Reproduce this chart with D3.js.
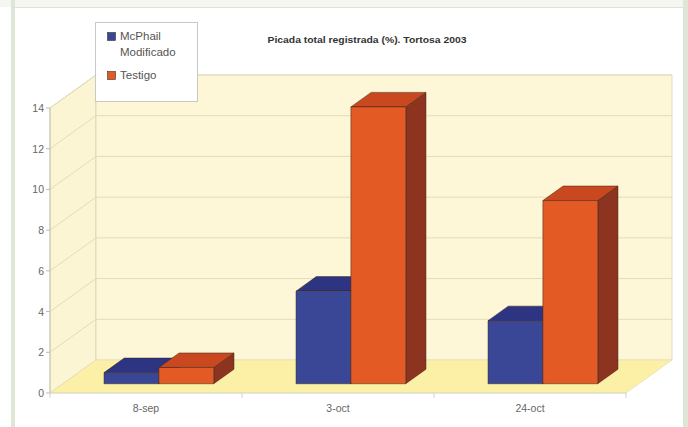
<html>
  <head>
    <script src="https://d3js.org/d3.v7.min.js"></script>
    <style>
      body { margin: 0; background: #fff; }
      text { font-family: "Liberation Sans", Arial, sans-serif; }
    </style>
  </head>
  <body>
    <svg id="chart" width="688" height="427"></svg>
    <script>
      // data
      const categories = ["8-sep", "3-oct", "24-oct"];
      const series = ["McPhail Modificado", "Testigo"];
      const mcphail = [0.55, 4.55, 3.1];
      const testigo = [0.8, 13.6, 9.0];
      const yTicks = [0, 2, 4, 6, 8, 10, 12, 14];
      const titleText = "Picada total registrada (%). Tortosa 2003";

      const values = [mcphail, testigo];
      const colors = [
        { front: "#3a4797", top: "#2d3481", side: "#252b6a" },
        { front: "#e45a24", top: "#c9481f", side: "#8c3420" }
      ];

      const svg = d3.select("#chart");

      // page frame
      svg.append("rect").attr("x", 0).attr("y", 0).attr("width", 688).attr("height", 7).attr("fill", "#f5f6ef");
      svg.append("line").attr("x1", 12).attr("x2", 684).attr("y1", 7.5).attr("y2", 7.5).attr("stroke", "#dfe3d6");
      svg.append("rect").attr("x", 11).attr("y", 0).attr("width", 4).attr("height", 427).attr("fill", "#dfe6d8");
      svg.append("rect").attr("x", 683).attr("y", 0).attr("width", 5).attr("height", 427).attr("fill", "#dfe6d8");

      // 3d layout
      const depthX = 46, depthY = -33;
      const x = d3.scaleBand().domain(categories).range([50, 626]);
      const y = d3.scaleLinear().domain([0, 14]).range([393, 108]);
      const barW = x.bandwidth() / 3.5;
      const xs = d3.scaleBand().domain(series).range([0, 2 * barW]);
      const f0 = 0.28, f1 = 0.72; // bar depth, front and back

      const P = (px, v, f) => [px + depthX * f, y(v) + depthY * f];
      const poly = (pts) => pts.map((p) => p.join(",")).join(" ");

      const layer = svg.append("g");

      // left wall
      layer.append("polygon")
        .attr("points", poly([P(50, 0, 0), P(50, 14, 0), P(50, 14, 1), P(50, 0, 1)]))
        .attr("fill", "#fbf5d3").attr("stroke", "#cfcbb0").attr("stroke-width", 0.8);
      // back wall
      layer.append("polygon")
        .attr("points", poly([P(50, 0, 1), P(50, 14, 1), P(626, 14, 1), P(626, 0, 1)]))
        .attr("fill", "#fdf7d8").attr("stroke", "#d8d4b8").attr("stroke-width", 0.8);
      // floor
      layer.append("polygon")
        .attr("points", poly([P(50, 0, 0), P(626, 0, 0), P(626, 0, 1), P(50, 0, 1)]))
        .attr("fill", "#fbf0a6").attr("stroke", "#e6e0b8").attr("stroke-width", 0.8);

      // gridlines
      yTicks.filter((t) => t > 0).forEach((t) => {
        layer.append("polyline")
          .attr("points", poly([P(50, t, 0), P(50, t, 1), P(626, t, 1)]))
          .attr("fill", "none").attr("stroke", "#e3dcb6").attr("stroke-width", 1);
      });

      // axes
      layer.append("line").attr("x1", 50).attr("x2", 50).attr("y1", y(0)).attr("y2", y(14)).attr("stroke", "#c9c6b2");
      layer.append("line").attr("x1", 50).attr("x2", 626).attr("y1", y(0)).attr("y2", y(0)).attr("stroke", "#dcd9c6");
      yTicks.forEach((t) => {
        layer.append("line").attr("x1", 46).attr("x2", 50).attr("y1", y(t)).attr("y2", y(t)).attr("stroke", "#bbb");
        layer.append("text").attr("x", 44).attr("y", y(t) + 4)
          .attr("text-anchor", "end").attr("font-size", 10.5).attr("fill", "#666").text(t);
      });
      const xEdges = categories.map((c) => x(c)).concat([626]);
      xEdges.forEach((e) => {
        layer.append("line").attr("x1", e).attr("x2", e).attr("y1", y(0)).attr("y2", y(0) + 5).attr("stroke", "#d0d0c8");
      });
      categories.forEach((c) => {
        layer.append("text").attr("x", x(c) + x.bandwidth() / 2).attr("y", 412)
          .attr("text-anchor", "middle").attr("font-size", 10.5).attr("fill", "#666").text(c);
      });

      // bars
      categories.forEach((c, ci) => {
        series.forEach((s, si) => {
          const v = values[si][ci];
          const xl = x(c) + (x.bandwidth() - 2 * barW) / 2 + xs(s);
          const xr = xl + barW;
          const col = colors[si];
          const g = layer.append("g");
          g.append("polygon")
            .attr("points", poly([P(xr, 0, f0), P(xr, v, f0), P(xr, v, f1), P(xr, 0, f1)]))
            .attr("fill", col.side).attr("stroke", "#3a2418").attr("stroke-width", 0.5);
          g.append("polygon")
            .attr("points", poly([P(xl, v, f0), P(xr, v, f0), P(xr, v, f1), P(xl, v, f1)]))
            .attr("fill", col.top).attr("stroke", "#3a2418").attr("stroke-width", 0.5);
          g.append("polygon")
            .attr("points", poly([P(xl, 0, f0), P(xl, v, f0), P(xr, v, f0), P(xr, 0, f0)]))
            .attr("fill", col.front).attr("stroke", "#3a2418").attr("stroke-width", 0.5);
        });
      });

      // title
      svg.append("text").attr("x", 367).attr("y", 43).attr("text-anchor", "middle")
        .attr("font-size", 8.5).attr("font-weight", "bold").attr("fill", "#333")
        .attr("textLength", 199).attr("lengthAdjust", "spacingAndGlyphs").text(titleText);

      // legend
      const leg = svg.append("g");
      leg.append("rect").attr("x", 95.5).attr("y", 22.5).attr("width", 102).attr("height", 79)
        .attr("fill", "#fff").attr("stroke", "#c8c8c8");
      const legRows = [["McPhail", "Modificado"], ["Testigo"]];
      const legY = [32, 71];
      legRows.forEach((lines, i) => {
        leg.append("rect").attr("x", 107.5).attr("y", legY[i] + 0.5).attr("width", 8).attr("height", 8)
          .attr("fill", colors[i].front).attr("stroke", "#333").attr("stroke-width", 0.6);
        lines.forEach((t, j) => {
          leg.append("text").attr("x", 120).attr("y", legY[i] + 8 + j * 16)
            .attr("font-size", 11.5).attr("fill", "#555").text(t);
        });
      });
    </script>
  </body>
</html>
